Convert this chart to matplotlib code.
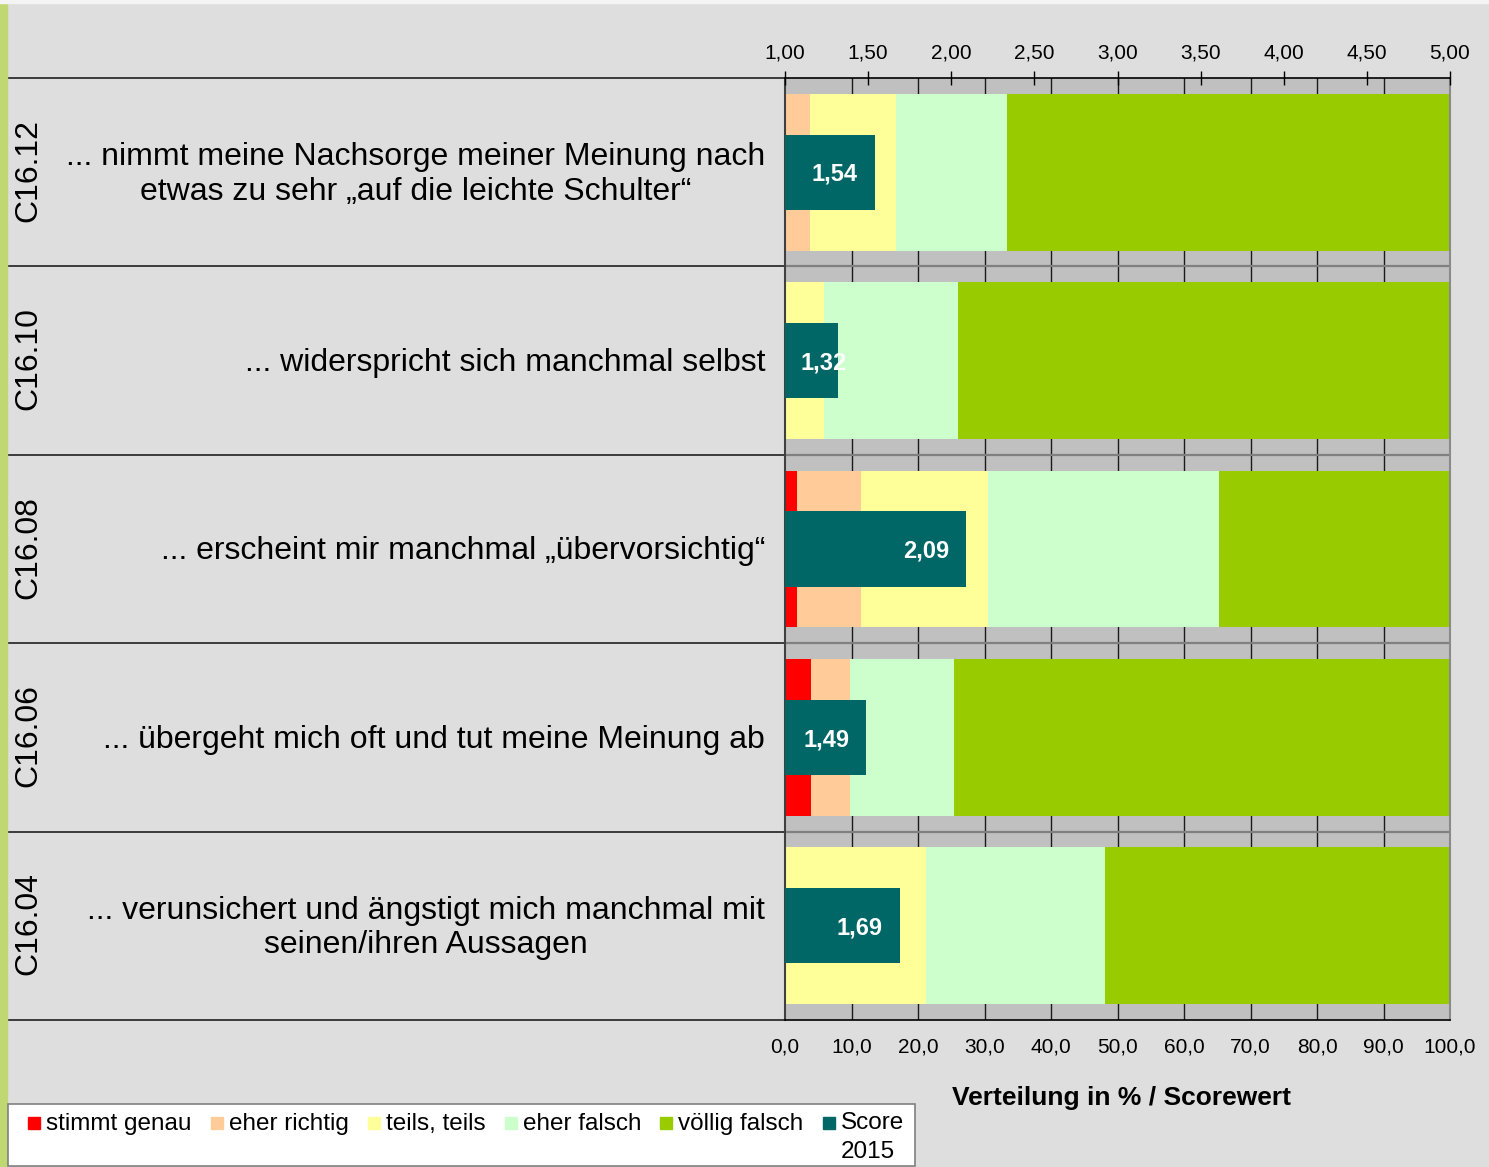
import numpy as np
import matplotlib
matplotlib.use('Agg')
import matplotlib.pyplot as plt
from matplotlib.patches import Rectangle
from matplotlib.transforms import blended_transform_factory

plt.rcParams['font.family'] = ['Liberation Sans', 'DejaVu Sans']

# data (top row first)
codes = ['C16.12', 'C16.10', 'C16.08', 'C16.06', 'C16.04']
items = ['... nimmt meine Nachsorge meiner Meinung nach\netwas zu sehr „auf die leichte Schulter“',
         '... widerspricht sich manchmal selbst',
         '... erscheint mir manchmal „übervorsichtig“',
         '... übergeht mich oft und tut meine Meinung ab',
         '... verunsichert und ängstigt mich manchmal mit\nseinen/ihren Aussagen']
stimmt_genau = [0.0, 0.0, 1.8, 3.9, 0.0]
eher_richtig = [3.7, 0.0, 9.6, 5.9, 0.0]
teils_teils = [13.0, 5.9, 19.2, 0.0, 21.2]
eher_falsch = [16.7, 20.1, 34.6, 15.6, 26.9]
voellig_falsch = [66.6, 74.0, 34.8, 74.6, 51.9]
score = [1.54, 1.32, 2.09, 1.49, 1.69]

series = [('stimmt genau', stimmt_genau, '#FF0000'),
          ('eher richtig', eher_richtig, '#FFCC99'),
          ('teils, teils', teils_teils, '#FFFF99'),
          ('eher falsch', eher_falsch, '#CCFFCC'),
          ('völlig falsch', voellig_falsch, '#99CC00')]
score_color = '#006666'
score_name = 'Score\n2015'

W, H = 1489, 1167
def fx(x):
    return x / W
def fy(y):
    return 1 - y / H

fig = plt.figure(figsize=(W / 100, H / 100), dpi=100)
fig.patch.set_facecolor('#DEDEDE')
# left green strip and top white band
fig.patches.append(Rectangle((0, 0), fx(7), fy(2), transform=fig.transFigure, color='#BFD872', zorder=0))
fig.patches.append(Rectangle((0, fy(3)), 1, 3 / H, transform=fig.transFigure, color='#F4F4F4', zorder=0))

ax = fig.add_axes([fx(785), fy(1020), (1450 - 785) / W, (1020 - 78) / H])
ax.set_facecolor('#C0C0C0')
ypos = np.arange(len(codes))

left = np.zeros(len(codes))
for name, vals, col in series:
    ax.barh(ypos, vals, left=left, height=0.833, color=col, zorder=2)
    left += np.array(vals)

ax.set_xlim(0, 100)
ax.set_ylim(len(codes) - 0.5, -0.5)
ax.set_xticks(np.arange(0, 101, 10))
ax.set_xticklabels([f'{v:.1f}'.replace('.', ',') for v in np.arange(0, 101, 10)])
ax.tick_params(axis='x', length=0, pad=12.5, labelsize=15)
ax.set_yticks(ypos)
ax.tick_params(axis='y', direction='in', length=6, width=1, labelleft=False)
for v in range(10, 100, 10):
    ax.axvline(v, color='#1A1A1A', lw=1, zorder=1)
for b in np.arange(0.5, len(codes) - 0.5, 1):
    ax.axhline(b, color='#808080', lw=1.6, zorder=1.5)

ax.spines['top'].set_visible(False)
ax.spines['bottom'].set_color('black')
ax.spines['bottom'].set_linewidth(1.2)
ax.spines['left'].set_color('#404040')
ax.spines['left'].set_linewidth(1.5)
ax.spines['right'].set_color('#8A8A8A')
ax.spines['right'].set_linewidth(1.5)

# label-area lines, codes and item texts
tr = blended_transform_factory(ax.transAxes, ax.transData)
x_lab_left = (6 - 785) / 665
dy = 0.012
for b in np.arange(-0.5, len(codes), 1):
    ax.plot([x_lab_left, 0], [b, b], transform=tr, color='#202020', lw=1.2, clip_on=False)
for i in ypos:
    ax.text((28 - 785) / 665, i - 0.01, codes[i], transform=tr, rotation=90, ha='center', va='center',
            fontsize=23, color='black')
    ax.text(-0.030, i + dy, items[i], transform=tr, ha='right', va='center', multialignment='center',
            fontsize=23, linespacing=1.2, color='black')

# score bars on top axis
ax2 = ax.twiny()
ax2.set_xlim(1, 5)
ax2.barh(ypos, np.array(score) - 1, left=1, height=0.40, color=score_color, zorder=3)
for i, s in enumerate(score):
    xc = max(s - 0.24, 1.235)
    ax2.text(xc, i + dy, f'{s:.2f}'.replace('.', ','), ha='center', va='center', fontsize=17,
             fontweight='bold', color='white', zorder=4)
ticks2 = np.arange(1, 5.01, 0.5)
ax2.set_xticks(ticks2)
ax2.set_xticklabels([f'{v:.2f}'.replace('.', ',') for v in ticks2])
ax2.tick_params(axis='x', direction='inout', length=9.5, width=1, pad=6.5, labelsize=15)
for s in ['left', 'right', 'bottom']:
    ax2.spines[s].set_visible(False)
ax2.spines['top'].set_color('black')
ax2.spines['top'].set_linewidth(1.2)

fig.text(fx(1122), fy(1098), 'Verteilung in % / Scorewert', ha='center', va='center',
         fontsize=19, fontweight='bold')

# legend box
fig.patches.append(Rectangle((fx(8), fy(1166)), (915 - 8) / W, (1166 - 1104) / H,
                             transform=fig.transFigure, facecolor='white', edgecolor='#808080',
                             lw=1.2, zorder=1))
sq_x = [28, 211, 368, 505, 660, 823]
leg_names = [s[0] for s in series] + [score_name]
leg_cols = [s[2] for s in series] + [score_color]
for x, name, col in zip(sq_x, leg_names, leg_cols):
    fig.patches.append(Rectangle((fx(x), fy(1129)), 12 / W, 12 / H, transform=fig.transFigure,
                                 color=col, zorder=2))
    if '\n' in name:
        fig.text(fx(x + 18), fy(1112), name, ha='left', va='top',
                 fontsize=17.5, linespacing=1.4, zorder=3)
    else:
        fig.text(fx(x + 18), fy(1124), name, ha='left', va='center',
                 fontsize=17.5, zorder=3)

fig.savefig('out.png', dpi=100, facecolor=fig.get_facecolor())
